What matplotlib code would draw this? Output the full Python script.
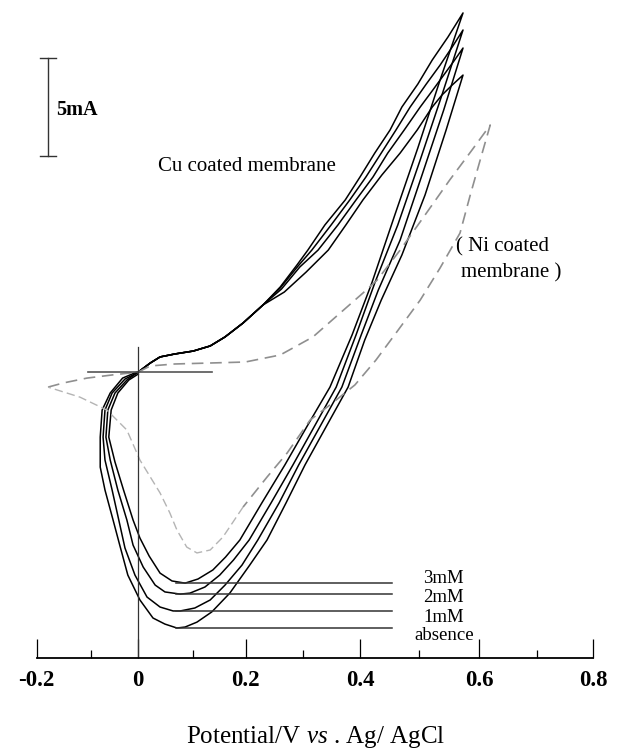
import numpy as np
import matplotlib
matplotlib.use("Agg")
from matplotlib import pyplot as plt

plt.rcParams["font.family"] = ["Liberation Serif", "DejaVu Serif"]
plt.rcParams["mathtext.fontset"] = "custom"
plt.rcParams["mathtext.rm"] = "Liberation Serif"
plt.rcParams["mathtext.it"] = "Liberation Serif:italic"

# common start of the anodic scan (V, mA), zero current at the crossing
up_v = [0.000, 0.022, 0.040, 0.067, 0.101, 0.133, 0.161, 0.195, 0.230]
up_i = [0.00, 0.46, 0.77, 0.92, 1.07, 1.33, 1.79, 2.50, 3.42]

# rest of each loop: upper branch -> peak -> return scan -> minimum -> back up
mM3_v = [0.260, 0.289, 0.308, 0.338, 0.374, 0.400, 0.425, 0.451, 0.471, 0.498, 0.522, 0.548, 0.573,
         0.535, 0.498, 0.459, 0.420, 0.386, 0.347, 0.308, 0.268, 0.228, 0.189, 0.162, 0.138, 0.110, 0.086,
         0.062, 0.040, 0.020, 0.003, -0.011, -0.031, -0.049, -0.062, -0.057, -0.043, -0.020, 0.000]
mM3_i = [4.34, 5.46, 6.22, 7.50, 8.78, 9.95, 11.17, 12.35, 13.52, 14.69, 15.92, 17.09, 18.32,
         14.90, 11.43, 8.01, 4.54, 1.89, -0.77, -2.70, -4.74, -6.68, -8.57, -9.44, -10.10, -10.56, -10.77,
         -10.66, -10.26, -9.39, -8.47, -7.55, -6.02, -4.59, -3.32, -1.94, -1.07, -0.41, -0.10]

mM2_v = [0.260, 0.291, 0.315, 0.349, 0.382, 0.410, 0.436, 0.461, 0.485, 0.512, 0.535, 0.555, 0.573,
         0.538, 0.502, 0.464, 0.425, 0.393, 0.358, 0.321, 0.282, 0.244, 0.206, 0.177, 0.151, 0.123, 0.095, 0.077,
         0.049, 0.031, 0.009, -0.011, -0.024, -0.043, -0.059, -0.068, -0.064, -0.049, -0.024, -0.003]
mM2_i = [4.29, 5.41, 6.22, 7.50, 8.78, 9.95, 11.17, 12.35, 13.52, 14.69, 15.66, 16.58, 17.45,
         14.13, 10.82, 7.50, 4.54, 1.89, -0.77, -2.70, -4.74, -6.68, -8.57, -9.59, -10.36, -10.97, -11.28, -11.33,
         -11.22, -10.87, -9.95, -8.83, -7.55, -6.02, -4.49, -3.32, -1.94, -1.07, -0.41, -0.05]

mM1_v = [0.262, 0.294, 0.326, 0.361, 0.393, 0.422, 0.447, 0.475, 0.502, 0.523, 0.541, 0.558, 0.573,
         0.541, 0.505, 0.468, 0.431, 0.402, 0.368, 0.331, 0.292, 0.258, 0.221, 0.193, 0.161, 0.133, 0.104, 0.077,
         0.064, 0.040, 0.016, -0.007, -0.028, -0.041, -0.055, -0.070, -0.074, -0.070, -0.055, -0.028, -0.003]
mM1_i = [4.23, 5.36, 6.22, 7.50, 8.78, 9.95, 11.17, 12.35, 13.52, 14.39, 15.15, 15.87, 16.53,
         13.37, 10.05, 6.73, 4.18, 1.89, -0.77, -2.70, -4.74, -6.68, -8.57, -9.85, -10.87, -11.63, -12.04, -12.19,
         -12.19, -11.99, -11.48, -10.36, -8.98, -7.55, -6.02, -4.49, -3.32, -1.94, -1.07, -0.36, -0.05]

abs_v = [0.267, 0.305, 0.344, 0.375, 0.405, 0.437, 0.468, 0.497, 0.522, 0.538, 0.555, 0.573,
         0.545, 0.510, 0.471, 0.436, 0.408, 0.379, 0.342, 0.303, 0.270, 0.237, 0.207, 0.170, 0.136, 0.108, 0.086, 0.071,
         0.049, 0.027, 0.003, -0.022, -0.039, -0.053, -0.070, -0.080, -0.080, -0.076, -0.059, -0.033, -0.003]
abs_i = [4.08, 5.10, 6.22, 7.50, 8.78, 10.05, 11.17, 12.35, 13.52, 14.13, 14.64, 15.15,
         12.35, 9.03, 5.97, 3.67, 1.63, -0.77, -2.70, -4.74, -6.68, -8.57, -9.85, -11.28, -12.24, -12.76, -13.01, -13.06,
         -12.86, -12.55, -11.63, -10.36, -8.83, -7.55, -6.02, -4.85, -3.32, -1.94, -1.07, -0.31, 0.00]

# Ni coated membrane (dashed): tip -> crossing -> peak -> down, then the fainter part back to the tip
ni_v = [-0.179, -0.151, -0.107, -0.055, 0.000, 0.022, 0.067, 0.133, 0.199, 0.260, 0.317, 0.365, 0.405, 0.429,
        0.468, 0.510, 0.551, 0.588, 0.619, 0.604, 0.585, 0.568, 0.535, 0.502, 0.461, 0.427, 0.391, 0.347, 0.312,
        0.272, 0.237, 0.195]
ni_i = [-0.77, -0.56, -0.31, -0.15, 0.00, 0.31, 0.41, 0.46, 0.51, 0.87, 1.79, 3.01, 4.03, 4.69,
        6.22, 8.01, 9.80, 11.33, 12.60, 11.07, 9.03, 7.09, 5.31, 3.67, 1.99, 0.61, -0.66, -1.68, -2.45,
        -4.13, -5.36, -6.89]
ni_back_v = [0.195, 0.157, 0.133, 0.108, 0.089, 0.071, 0.058, 0.040, 0.003, -0.024, -0.066, -0.120, -0.179]
ni_back_i = [-6.89, -8.42, -9.08, -9.23, -8.93, -8.06, -7.19, -6.17, -4.49, -2.96, -1.94, -1.28, -0.77]

labels = ["3mM", "2mM", "1mM", "absence"]
base_i = [-10.77, -11.33, -12.19, -13.06]
label_i = [-10.51, -11.48, -12.50, -13.42]

# scanned axis is not quite linear: pixel position of each 0.1 V tick
tick_v = [-1.0, -0.2, -0.1, 0.0, 0.1, 0.2, 0.3, 0.4, 0.5, 0.6, 0.7, 0.8, 2.0]
tick_px = [-395.3, 36.7, 90.7, 138.3, 192.7, 245.7, 303.3, 360.0, 419.0, 479.3, 536.7, 593.3, 1277.3]


def fwd(v):
    return np.interp(v, tick_v, tick_px)


def inv(p):
    return np.interp(p, tick_px, tick_v)


fig = plt.figure(figsize=(6.21, 7.49), dpi=100)
ax = fig.add_axes([36.7 / 621, 91 / 749, 556.6 / 621, 658 / 749])
ax.set_xscale("function", functions=(fwd, inv))
ax.set_xlim(-0.2, 0.8)
ax.set_ylim(-14.59, 18.98)

for lv, li in [(mM3_v, mM3_i), (mM2_v, mM2_i), (mM1_v, mM1_i), (abs_v, abs_i)]:
    ax.plot(up_v + lv, up_i + li, color="black", lw=1.1, solid_joinstyle="round")

ax.plot(ni_v, ni_i, color="#8f8f8f", lw=1.2, dashes=(7, 4))
ax.plot(ni_back_v, ni_back_i, color="#b4b4b4", lw=1.0, dashes=(6, 3))

for lab, b, t in zip(labels, base_i, label_i):
    ax.plot([0.07, 0.454], [b, b], color="#333333", lw=1.1)
    ax.text(0.541, t, lab, ha="center", va="center", fontsize=13.5)

# reference lines at zero
ax.plot([-0.105, 0.136], [0, 0], color="#555555", lw=1.2)
ax.plot([0, 0], [1.28, -14.59], color="#333333", lw=0.9)

# 5 mA scale bar
ax.plot([-0.179, -0.179], [11.02, 16.02], color="#333333", lw=1.0)
ax.plot([-0.194, -0.164], [16.02, 16.02], color="#333333", lw=1.0)
ax.plot([-0.194, -0.164], [11.02, 11.02], color="#333333", lw=1.0)
ax.text(-0.164, 13.37, "5mA", ha="left", va="center", fontsize=14.5, fontweight="bold")

ax.text(0.202, 10.46, "Cu coated membrane", ha="center", va="center", fontsize=15)
ax.text(0.641, 6.38, "( Ni coated", ha="center", va="center", fontsize=15)
ax.text(0.656, 5.05, "membrane )", ha="center", va="center", fontsize=15)

for s in ["top", "left", "right"]:
    ax.spines[s].set_visible(False)
ax.spines["bottom"].set_linewidth(1.3)
ax.set_xticks([-0.2, 0, 0.2, 0.4, 0.6, 0.8])
ax.set_xticklabels(["-0.2", "0", "0.2", "0.4", "0.6", "0.8"], fontsize=16.5, fontweight="bold")
ax.set_xticks([-0.1, 0.1, 0.3, 0.5, 0.7], minor=True)
ax.tick_params(axis="x", which="major", direction="in", length=13.5, width=0.9, pad=9)
ax.tick_params(axis="x", which="minor", direction="in", length=5.5, width=0.9)
ax.set_yticks([])

fig.text(316 / 621, 1 - 737 / 749, r"Potential/V $\it{vs}$ . Ag/ AgCl", ha="center", va="center", fontsize=18)

fig.savefig("out.png", dpi=100)
